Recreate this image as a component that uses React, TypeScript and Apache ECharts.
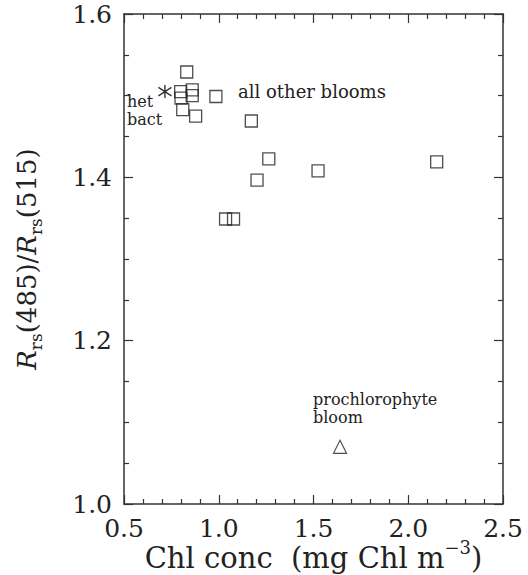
import React, { useEffect, useRef } from "react";
import * as echarts from "echarts";

// Chl concentration (mg Chl m^-3) and Rrs(485)/Rrs(515) ratio
const otherBloomChl = [0.831, 0.799, 0.801, 0.86, 0.86, 0.81, 0.878, 0.985, 1.172, 1.264, 1.202, 1.524, 2.15, 1.036, 1.078];
const otherBloomRatio = [1.529, 1.505, 1.497, 1.507, 1.5, 1.483, 1.475, 1.499, 1.469, 1.4225, 1.3965, 1.408, 1.419, 1.349, 1.349];
const hetBactChl = [0.716];
const hetBactRatio = [1.505];
const prochloroChl = [1.64];
const prochloroRatio = [1.07];

const xTicks = { min: 0.5, max: 2.5, interval: 0.5 };
const yTicks = { min: 1.0, max: 1.6, interval: 0.2 };

const FONT = "DejaVu Serif";
const INK = "#222";
const AXIS = "#333";

function pairs(xs: number[], ys: number[]) {
  return xs.map((x, i) => [x, ys[i]]);
}

export default function App() {
  const ref = useRef<HTMLDivElement>(null);
  useEffect(() => {
    if (!ref.current) return;
    const chart = echarts.init(ref.current, null, { renderer: "svg" });
    const tickCommon = {
      axisLine: { show: true, lineStyle: { color: AXIS, width: 1.5 } },
      axisTick: { show: true, inside: true, length: 9, lineStyle: { color: AXIS, width: 1.2 } },
      splitLine: { show: false },
    };
    const xBase = {
      type: "value",
      min: xTicks.min,
      max: xTicks.max,
      interval: xTicks.interval,
      minorTick: { show: true, splitNumber: 5, length: 5, lineStyle: { color: AXIS, width: 1.2 } },
      ...tickCommon,
    };
    const yBase = {
      type: "value",
      min: yTicks.min,
      max: yTicks.max,
      interval: yTicks.interval,
      minorTick: { show: true, splitNumber: 4, length: 5, lineStyle: { color: AXIS, width: 1.2 } },
      ...tickCommon,
    };
    chart.setOption({
      animation: false,
      backgroundColor: "#fff",
      grid: { left: 124, top: 14, right: 25, bottom: 71, containLabel: false, outerBoundsMode: "none" },
      xAxis: [
        {
          ...xBase,
          position: "bottom",
          axisLabel: {
            show: true,
            margin: 12,
            fontFamily: FONT,
            fontSize: 25,
            color: INK,
            formatter: (v: number) => v.toFixed(1),
          },
          name: "{n|Chl conc  (mg Chl m}{sup|−3}{n|)}",
          nameLocation: "middle",
          nameGap: 34,
          nameMoveOverlap: false,
          nameTextStyle: {
            rich: {
              n: { fontFamily: FONT, fontSize: 29, color: INK, lineHeight: 34, verticalAlign: "bottom" },
              sup: { fontFamily: FONT, fontSize: 18, color: INK, verticalAlign: "top", lineHeight: 34 },
            },
          },
        },
        { ...xBase, position: "top", axisLabel: { show: false } },
      ],
      yAxis: [
        {
          ...yBase,
          position: "left",
          axisLabel: {
            show: true,
            margin: 12,
            fontFamily: FONT,
            fontSize: 25,
            color: INK,
            formatter: (v: number) => v.toFixed(1),
          },
          name: "{it|R}{sub|rs}{n|(485)/}{it|R}{sub|rs}{n|(515)}",
          nameLocation: "middle",
          nameRotate: 90,
          nameGap: 80,
          nameMoveOverlap: false,
          nameTextStyle: {
            rich: {
              it: { fontFamily: FONT, fontStyle: "italic", fontSize: 26, color: INK, lineHeight: 34, verticalAlign: "middle" },
              n: { fontFamily: FONT, fontSize: 26, color: INK, lineHeight: 34, verticalAlign: "middle" },
              sub: { fontFamily: FONT, fontSize: 17, color: INK, lineHeight: 34, verticalAlign: "bottom" },
            },
          },
        },
        { ...yBase, position: "right", axisLabel: { show: false } },
      ],
      series: [
        {
          type: "scatter",
          name: "all other blooms",
          xAxisIndex: 0,
          yAxisIndex: 0,
          symbol: "rect",
          symbolSize: 12,
          data: pairs(otherBloomChl, otherBloomRatio),
          itemStyle: { color: "rgba(0,0,0,0)", borderColor: INK, borderWidth: 1.3 },
        },
        {
          type: "scatter",
          name: "het bact",
          xAxisIndex: 0,
          yAxisIndex: 0,
          symbol: "path://M10,0L10,20M1.5,3.5L18.5,16.5M1.5,16.5L18.5,3.5",
          symbolSize: 13,
          data: pairs(hetBactChl, hetBactRatio),
          itemStyle: { color: "rgba(0,0,0,0)", borderColor: "#000", borderWidth: 1.4 },
        },
        {
          type: "scatter",
          name: "prochlorophyte bloom",
          xAxisIndex: 0,
          yAxisIndex: 0,
          symbol: "triangle",
          symbolSize: 13,
          data: pairs(prochloroChl, prochloroRatio),
          itemStyle: { color: "rgba(0,0,0,0)", borderColor: INK, borderWidth: 1.2 },
        },
      ],
      graphic: [
        { type: "text", left: 127, top: 92, style: { text: "het\nbact", font: `16px "${FONT}"`, lineHeight: 18.5, fill: INK } },
        { type: "text", left: 238, top: 82, style: { text: "all other blooms", font: `18px "${FONT}"`, fill: INK } },
        { type: "text", left: 313, top: 390, style: { text: "prochlorophyte\nbloom", font: `16px "${FONT}"`, lineHeight: 18.5, fill: INK } },
      ],
    });
    return () => chart.dispose();
  }, []);
  return (
    <div
      ref={ref}
      style={{ position: "absolute", left: 0, top: 0, width: 528, height: 575, background: "#fff" }}
    />
  );
}
